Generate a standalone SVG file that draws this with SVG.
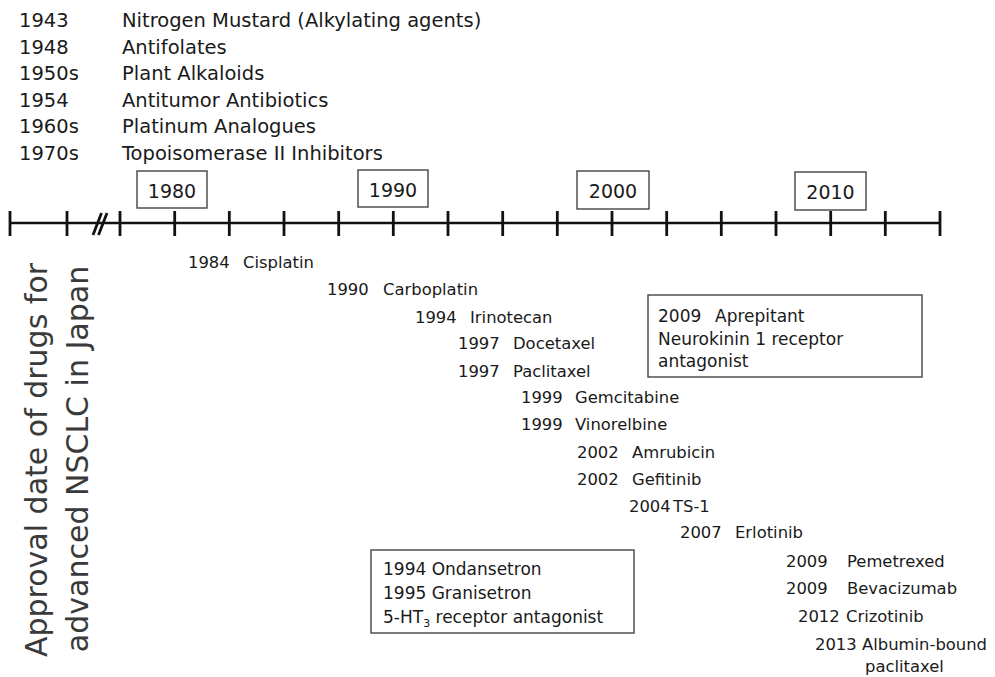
<svg xmlns="http://www.w3.org/2000/svg" width="995" height="677" viewBox="0 0 995 677">
<style>
text{font-family:"DejaVu Sans","Liberation Sans",sans-serif;fill:#1a1a1a}
.top{font-size:19.5px}
.drug{font-size:16.4px}
.box{font-size:17px}
.yr{font-size:19px}
.frame{fill:#fff;stroke:#444;stroke-width:1.4}
.tick{stroke:#111;stroke-width:2.8}
.side{font-size:30px;fill:#3a3a3a}
</style>
<rect width="995" height="677" fill="#fff"/>
<g id="history" class="top">
<text x="19" y="27">1943</text><text x="122" y="27">Nitrogen Mustard (Alkylating agents)</text>
<text x="19" y="53.6">1948</text><text x="122" y="53.6">Antifolates</text>
<text x="19" y="80">1950s</text><text x="122" y="80">Plant Alkaloids</text>
<text x="19" y="107">1954</text><text x="122" y="107">Antitumor Antibiotics</text>
<text x="19" y="133">1960s</text><text x="122" y="133">Platinum Analogues</text>
<text x="19" y="160">1970s</text><text x="122" y="160">Topoisomerase II Inhibitors</text>
</g>
<g id="connectors">
<line x1="10" y1="223" x2="940" y2="223" stroke="#111" stroke-width="2.5"/>
<g class="tick">
<line x1="10" y1="211" x2="10" y2="236"/>
<line x1="67" y1="211" x2="67" y2="236"/>
<line x1="120" y1="211" x2="120" y2="236"/>
<line x1="174.7" y1="211" x2="174.7" y2="236"/>
<line x1="229.3" y1="211" x2="229.3" y2="236"/>
<line x1="284" y1="211" x2="284" y2="236"/>
<line x1="338.7" y1="211" x2="338.7" y2="236"/>
<line x1="393.3" y1="211" x2="393.3" y2="236"/>
<line x1="448" y1="211" x2="448" y2="236"/>
<line x1="502.7" y1="211" x2="502.7" y2="236"/>
<line x1="557.3" y1="211" x2="557.3" y2="236"/>
<line x1="612" y1="211" x2="612" y2="236"/>
<line x1="666.7" y1="211" x2="666.7" y2="236"/>
<line x1="721.3" y1="211" x2="721.3" y2="236"/>
<line x1="776" y1="211" x2="776" y2="236"/>
<line x1="830.7" y1="211" x2="830.7" y2="236"/>
<line x1="885.3" y1="211" x2="885.3" y2="236"/>
<line x1="940" y1="211" x2="940" y2="236"/>
</g>
<line x1="93" y1="235" x2="101.5" y2="213" stroke="#111" stroke-width="2.8"/>
<line x1="98.5" y1="235" x2="107" y2="213" stroke="#111" stroke-width="2.8"/>
</g>
<g id="y1980"><rect class="frame" x="137" y="171" width="70" height="37"/><text class="yr" x="172" y="198" text-anchor="middle">1980</text></g>
<g id="y1990"><rect class="frame" x="358" y="170" width="70" height="37"/><text class="yr" x="393" y="197" text-anchor="middle">1990</text></g>
<g id="y2000"><rect class="frame" x="577" y="171" width="72" height="38"/><text class="yr" x="613" y="198" text-anchor="middle">2000</text></g>
<g id="y2010"><rect class="frame" x="795" y="172" width="71" height="38"/><text class="yr" x="830.5" y="199" text-anchor="middle">2010</text></g>
<g id="sidelabel" class="side">
<text class="side" transform="translate(47,460) rotate(-90)" text-anchor="middle">Approval date of drugs for</text>
<text class="side" transform="translate(88,459) rotate(-90)" text-anchor="middle">advanced NSCLC in Japan</text>
</g>
<g id="drugs" class="drug">
<text x="188" y="268">1984</text><text x="243" y="268">Cisplatin</text>
<text x="327" y="295">1990</text><text x="383" y="295">Carboplatin</text>
<text x="415" y="323">1994</text><text x="470" y="323">Irinotecan</text>
<text x="458" y="349">1997</text><text x="513" y="349">Docetaxel</text>
<text x="458" y="377">1997</text><text x="513" y="377">Paclitaxel</text>
<text x="521" y="403">1999</text><text x="575" y="403">Gemcitabine</text>
<text x="521" y="430">1999</text><text x="575" y="430">Vinorelbine</text>
<text x="577" y="458">2002</text><text x="632" y="458">Amrubicin</text>
<text x="577" y="485">2002</text><text x="632" y="485">Gefitinib</text>
<text x="629" y="512">2004</text><text x="673" y="512">TS-1</text>
<text x="680" y="538">2007</text><text x="735" y="538">Erlotinib</text>
<text x="786" y="567">2009</text><text x="847" y="567">Pemetrexed</text>
<text x="786" y="594">2009</text><text x="847" y="594">Bevacizumab</text>
<text x="798" y="622">2012</text><text x="846" y="622">Crizotinib</text>
<text x="815" y="650">2013</text><text x="862" y="650">Albumin-bound</text>
<text x="865" y="672">paclitaxel</text>
</g>
<g id="aprepitant">
<rect class="frame" x="648" y="295" width="274" height="82"/>
<text class="box" x="658" y="322">2009</text><text class="box" x="715" y="322">Aprepitant</text>
<text class="box" x="658" y="345">Neurokinin 1 receptor</text>
<text class="box" x="658" y="367">antagonist</text>
</g>
<g id="antiemetic5ht3">
<rect class="frame" x="371" y="550" width="263" height="83"/>
<text class="box" x="383" y="575">1994 Ondansetron</text>
<text class="box" x="383" y="599">1995 Granisetron</text>
<text class="box" x="383" y="623">5-HT<tspan font-size="11" dy="4">3</tspan><tspan dy="-4"> receptor antagonist</tspan></text>
</g>
</svg>
